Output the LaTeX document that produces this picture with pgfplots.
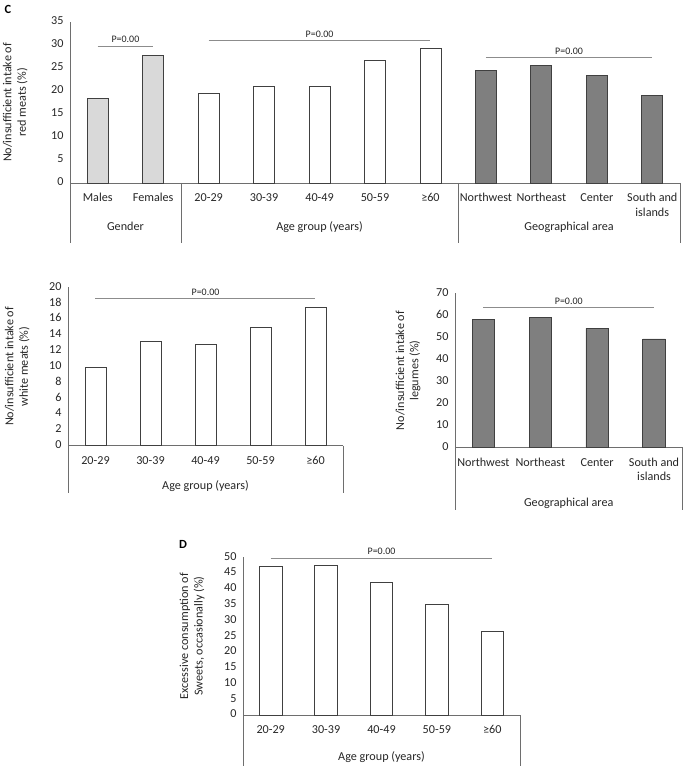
\documentclass[border=0pt]{standalone}
\usepackage{pgfplots}
\pgfplotsset{compat=1.18}
\usepackage{fontspec}
\setmainfont{Carlito}
\definecolor{axisgray}{RGB}{110,110,110}
\definecolor{pgray}{RGB}{140,140,140}
\definecolor{barline}{RGB}{64,64,64}
\definecolor{lightbar}{RGB}{217,217,217}
\definecolor{darkbar}{RGB}{127,127,127}
\newcommand{\lblfont}{\fontsize{12.2}{14.5}\selectfont}
\newcommand{\pfont}{\fontsize{10}{12}\selectfont}
\pgfplotsset{
  excelbar/.style={
    scale only axis,
    ybar, bar width=21bp,
    axis x line*=bottom, axis y line*=left,
    axis line style={axisgray, line width=0.8bp},
    major tick length=0pt,
    ymin=0,
    clip=false,
    /pgf/number format/assume math mode=true,
    tick label style={font=\lblfont, text=black!85},
    typeset ticklabels with strut,
    xticklabel style={align=center, anchor=north, yshift=-5bp},
    yticklabel style={xshift=-3bp},
    ylabel style={font=\lblfont, align=center, anchor=south, text=black!85},
  },
  barsty/.style={draw=barline, line width=0.8bp, fill=#1, bar shift=0pt},
}
\begin{document}
\begin{tikzpicture}
\useasboundingbox (0,0) rectangle (685bp,766bp);
\node[font=\bfseries\fontsize{12.5}{14}\selectfont] at (8bp,757bp) {C};
\node[font=\bfseries\fontsize{12.5}{14}\selectfont] at (183bp,222bp) {D};
% ---------- Panel C: red meats ----------
\begin{axis}[excelbar,
  at={(70bp,583bp)}, anchor=south west,
  width=610bp, height=161bp,
  xmin=-0.5, xmax=10.5, ymax=35,
  ytick={0,5,...,35},
  xtick={0,...,10},
  xticklabels={Males,Females,20-29,30-39,40-49,50-59,≥60,Northwest,Northeast,Center,South and\\islands},
  ylabel={No/insufficient intake of\\red meats (\%)},
  ylabel style={at={(axis description cs:-0.064,0.5)}},
]
\addplot[barsty=lightbar] coordinates {(0,18.4) (1,27.8)};
\addplot[barsty=white] coordinates {(2,19.5) (3,20.9) (4,20.9) (5,26.7) (6,29.2)};
\addplot[barsty=darkbar] coordinates {(7,24.5) (8,25.5) (9,23.3) (10,19.0)};
\draw[pgray, line width=0.8bp] (axis cs:0,29.8) -- node[above, font=\pfont, text=black!85, inner sep=2.5bp]{P=0.00} (axis cs:1,29.8);
\draw[pgray, line width=0.8bp] (axis cs:2,30.9) -- node[above, font=\pfont, text=black!85, inner sep=2.5bp]{P=0.00} (axis cs:6,30.9);
\draw[pgray, line width=0.8bp] (axis cs:7,27.2) -- node[above, font=\pfont, text=black!85, inner sep=2.5bp]{P=0.00} (axis cs:10,27.2);
\draw[axisgray, line width=0.8bp] (axis cs:-0.5,0) -- ++(0bp,-60bp);
\draw[axisgray, line width=0.8bp] (axis cs:1.5,0) -- ++(0bp,-60bp);
\draw[axisgray, line width=0.8bp] (axis cs:6.5,0) -- ++(0bp,-60bp);
\draw[axisgray, line width=0.8bp] (axis cs:10.5,0) -- ++(0bp,-60bp);
\node[font=\lblfont, text=black!85, anchor=base, yshift=-48bp] at (axis cs:0.5,0) {Gender};
\node[font=\lblfont, text=black!85, anchor=base, yshift=-48bp] at (axis cs:4,0) {Age group (years)};
\node[font=\lblfont, text=black!85, anchor=base, yshift=-48bp] at (axis cs:8.5,0) {Geographical area};
\end{axis}
% ---------- Panel white meats ----------
\begin{axis}[excelbar,
  at={(68bp,320.3bp)}, anchor=south west,
  width=275bp, height=158.4bp,
  xmin=-0.5, xmax=4.5, ymax=20,
  ytick={0,2,...,20},
  xtick={0,...,4},
  xticklabels={20-29,30-39,40-49,50-59,≥60},
  ylabel={No/insufficient intake of\\white meats (\%)},
  ylabel style={at={(axis description cs:-0.127,0.5)}},
]
\addplot[barsty=white] coordinates {(0,9.9) (1,13.2) (2,12.8) (3,14.9) (4,17.5)};
\draw[pgray, line width=0.8bp] (axis cs:0,18.6) -- node[above, font=\pfont, text=black!85, inner sep=2.5bp]{P=0.00} (axis cs:4,18.6);
\draw[axisgray, line width=0.8bp] (axis cs:-0.5,0) -- ++(0bp,-47bp);
\draw[axisgray, line width=0.8bp] (axis cs:4.5,0) -- ++(0bp,-47bp);
\node[font=\lblfont, text=black!85, anchor=base, yshift=-44bp] at (axis cs:2,0) {Age group (years)};
\end{axis}
% ---------- Panel legumes ----------
\begin{axis}[excelbar,
  at={(455bp,318.3bp)}, anchor=south west,
  width=227.5bp, height=154.4bp,
  xmin=-0.5, xmax=3.5, ymax=70,
  bar width=22.5bp,
  ytick={0,10,...,70},
  xtick={0,...,3},
  xticklabels={Northwest,Northeast,Center,South and\\islands},
  ylabel={No/insufficient intake of\\legumes (\%)},
  ylabel style={at={(axis description cs:-0.136,0.5)}},
]
\addplot[barsty=darkbar] coordinates {(0,58.2) (1,59.1) (2,54.1) (3,49.3)};
\draw[pgray, line width=0.8bp] (axis cs:0,63.5) -- node[above, font=\pfont, text=black!85, inner sep=2.5bp]{P=0.00} (axis cs:3,63.5);
\draw[axisgray, line width=0.8bp] (axis cs:-0.5,0) -- ++(0bp,-62bp);
\draw[axisgray, line width=0.8bp] (axis cs:3.5,0) -- ++(0bp,-62bp);
\node[font=\lblfont, text=black!85, anchor=base, yshift=-59bp] at (axis cs:1.5,0) {Geographical area};
\end{axis}
% ---------- Panel D: sweets ----------
\begin{axis}[excelbar,
  at={(243bp,51bp)}, anchor=south west,
  width=277bp, height=157.7bp,
  xmin=-0.5, xmax=4.5, ymax=50,
  bar width=22.5bp,
  ytick={0,5,...,50},
  xtick={0,...,4},
  xticklabels={20-29,30-39,40-49,50-59,≥60},
  ylabel={Excessive consumption of\\Sweets, occasionally (\%)},
  ylabel style={at={(axis description cs:-0.126,0.5)}},
]
\addplot[barsty=white] coordinates {(0,47.0) (1,47.5) (2,42.1) (3,35.2) (4,26.6)};
\draw[pgray, line width=0.8bp] (axis cs:0,49.8) -- node[above, font=\pfont, text=black!85, inner sep=2.5bp]{P=0.00} (axis cs:4,49.8);
\draw[axisgray, line width=0.8bp] (axis cs:-0.5,0) -- ++(0bp,-51bp);
\draw[axisgray, line width=0.8bp] (axis cs:4.5,0) -- ++(0bp,-51bp);
\node[font=\lblfont, text=black!85, anchor=base, yshift=-45bp] at (axis cs:2,0) {Age group (years)};
\end{axis}
\end{tikzpicture}
\end{document}
